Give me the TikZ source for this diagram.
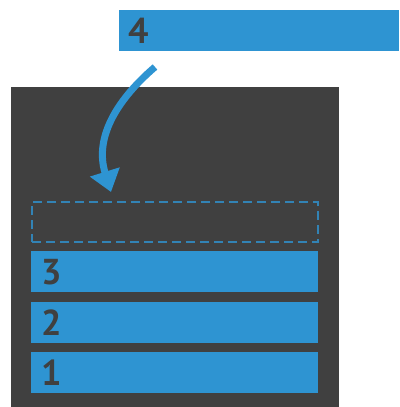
\documentclass[tikz,border=0pt]{standalone}
\usepackage{fontspec}
\setmainfont{PT Sans}
\usepackage{xcolor}
\definecolor{stackblue}{HTML}{2E94D2}
\definecolor{stackgray}{HTML}{404040}
\usepackage{tikz}
\usetikzlibrary{arrows.meta}

\begin{document}
\begin{tikzpicture}[x=1pt, y=-1pt,
    slot/.style={fill=stackblue, anchor=north west, minimum width=287pt,
      minimum height=41pt, inner xsep=10pt, text width=267pt, align=left,
      text=stackgray, font=\fontsize{36}{36}\selectfont\bfseries},
    emptyslot/.style={draw=stackblue!80!stackgray, line width=2pt, dash pattern=on 9pt off 5pt,
      anchor=north west, minimum width=286pt, minimum height=40pt}
]
  \useasboundingbox (0,0) rectangle (399,407);

  % der Stapel
  \fill[stackgray] (11,87) rectangle (339,407);

  % neues Element oben
  \node[slot, minimum width=280pt, text width=262pt, inner xsep=9pt] (item4) at (119,10) {4};

  % freier Platz und Elemente im Stapel
  \node[emptyslot] (free) at (31,201) {};
  \node[slot] (item3) at (31,251) {3};
  \node[slot] (item2) at (31,302) {2};
  \node[slot] (item1) at (31,352) {1};

  % Pfeil in den freien Platz
  \coordinate (from) at (155,67);
  \coordinate (to) at (111,192);
  \draw[stackblue, line width=7pt, -{Triangle[width=30pt, length=21pt]}]
    (from) .. controls (120,97) and (93.5,135.5) .. (to);

\end{tikzpicture}
\end{document}
